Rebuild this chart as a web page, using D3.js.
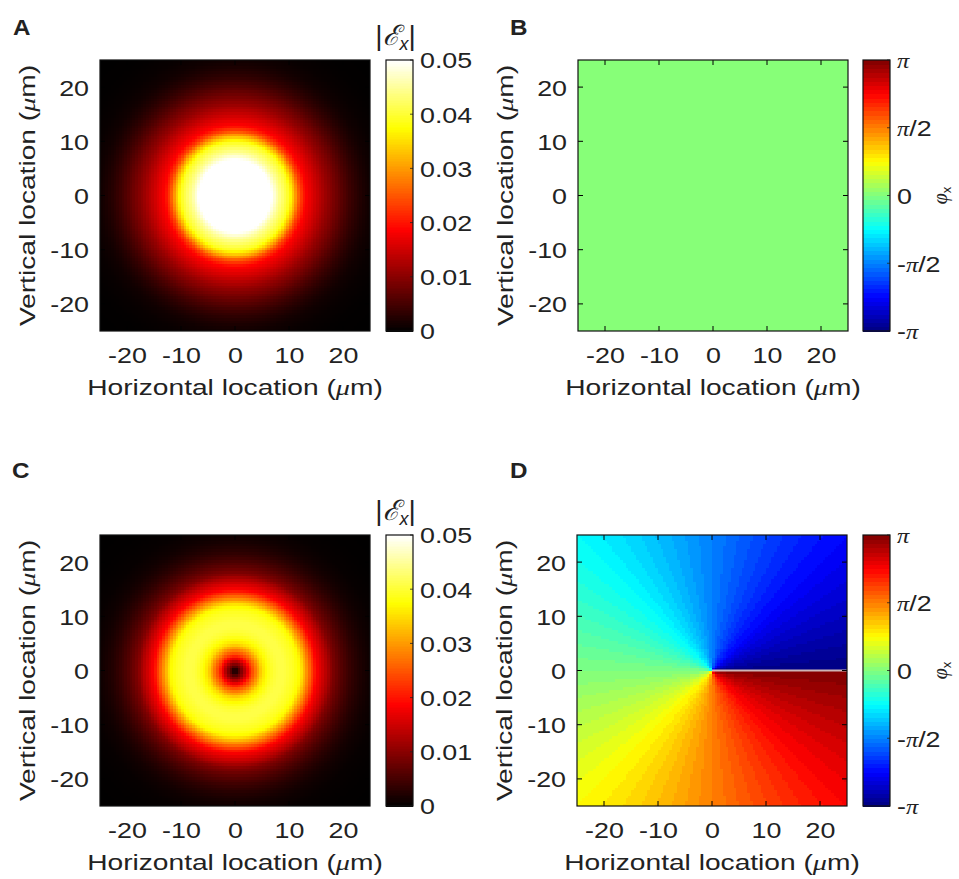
<!DOCTYPE html>
<html><head><meta charset="utf-8">
<script src="https://cdn.jsdelivr.net/npm/d3@7"></script>
<style>
body{margin:0;background:#fff;}
svg text{font-family:"Liberation Sans",Arial,Helvetica,sans-serif;fill:#222;}
</style></head><body>
<svg id="fig" width="959" height="879"></svg>
<script>
// ---------------- data ----------------
const axisTicks = [-20, -10, 0, 10, 20];
const axisExtent = [-25, 25];
const ampColorLimits = [0, 0.05];
const ampColorTicks = [0, 0.01, 0.02, 0.03, 0.04, 0.05];
const phaseColorLimits = [-Math.PI, Math.PI];
const phaseColorTicks = [-Math.PI, -Math.PI / 2, 0, Math.PI / 2, Math.PI];
const phaseColorTickLabels = ["-π", "-π/2", "0", "π/2", "π"];
// radial amplitude profile (Gaussian beam), radius in µm
const radiusA = [0, 2, 4, 6, 7, 8, 9, 10, 11, 12, 13, 14, 15, 16, 17, 18, 19, 20, 21, 22, 23, 24, 25, 27, 30, 36];
const ampA = [0.070, 0.068, 0.062, 0.053, 0.049, 0.045, 0.042, 0.039, 0.032, 0.024, 0.019, 0.017, 0.015, 0.013, 0.011, 0.0094, 0.0078, 0.0062, 0.0048, 0.0036, 0.0026, 0.0018, 0.0012, 0.0006, 0.0002, 0];
// radial amplitude profile (doughnut beam), radius in µm
const radiusC = [0, 0.5, 1, 1.5, 2, 2.5, 3, 4, 5, 6, 7, 8, 9, 10, 11, 12, 13, 14, 15, 16, 17, 18, 19, 20, 21, 22, 23, 24, 25, 27, 30, 36];
const ampC = [0, 0.004, 0.008, 0.011, 0.015, 0.019, 0.023, 0.029, 0.035, 0.038, 0.040, 0.041, 0.041, 0.040, 0.039, 0.037, 0.031, 0.025, 0.019, 0.016, 0.013, 0.0095, 0.0075, 0.0058, 0.0044, 0.0032, 0.0023, 0.0016, 0.0011, 0.0005, 0.0002, 0];
const azimuthDeg = [0, 90, 180, 270, 360];
const phaseB = [0, 0, 0, 0, 0];
const phaseD = [-Math.PI, -Math.PI / 2, 0, Math.PI / 2, Math.PI];

// ---------------- layout ----------------
const SX = 1.22;          // horizontal text stretch of the original rendering (tick labels)
const SXT = 1.28;         // stretch for axis titles
const FS = 22;            // font size
const PW = 270, PH = 271, CBW = 27;
const STEP = 0.5;
const panels = [
  {id: "A", kind: "amp", radius: radiusA, values: ampA, px: 100, py: 60, cbx: 286, letter: [13, 35]},
  {id: "B", kind: "phase", values: phaseB, px: 578, py: 60, cbx: 285, letter: [510, 35]},
  {id: "C", kind: "amp", radius: radiusC, values: ampC, px: 100, py: 535, cbx: 286, letter: [12, 478]},
  {id: "D", kind: "phase", values: phaseD, px: 577, py: 535, cbx: 286, letter: [510, 478], seam: true}
];

const clamp01 = v => Math.max(0, Math.min(1, v));
function hot(t) {
  t = clamp01(t);
  return d3.rgb(255 * clamp01(t / 0.375), 255 * clamp01((t - 0.375) / 0.375), 255 * clamp01((t - 0.75) / 0.25));
}
function jet(t) {
  return d3.rgb(255 * clamp01(1.5 - Math.abs(4 * t - 3)), 255 * clamp01(1.5 - Math.abs(4 * t - 2)), 255 * clamp01(1.5 - Math.abs(4 * t - 1)));
}
const jet64 = t => { const i = Math.min(63, Math.max(0, Math.floor(t * 64))); return jet((i + 0.5) / 64); };

const svg = d3.select("#fig");
const cellStarts = d3.range(axisExtent[0], axisExtent[1] - 1e-9, STEP);
const grid = cellStarts.flatMap(x0 => cellStarts.map(y0 => ({x0, y0})));
const ampNorm = d3.scaleLinear(ampColorLimits, [0, 1]).clamp(true);
const phaseNorm = d3.scaleLinear(phaseColorLimits, [0, 1]).clamp(true);
const SERIF = "'Liberation Serif','DejaVu Serif',serif";

panels.forEach(p => {
  const g = svg.append("g").attr("transform", `translate(${p.px},${p.py})`);
  const x = d3.scaleLinear(axisExtent, [0, PW]);
  const y = d3.scaleLinear(axisExtent, [PH, 0]);

  let colorOf;
  if (p.kind === "amp") {
    const prof = d3.scaleLinear(p.radius, p.values).clamp(true);
    colorOf = (cx, cy) => hot(ampNorm(prof(Math.hypot(cx, cy))));
  } else {
    const ph = d3.scaleLinear(azimuthDeg, p.values).clamp(true);
    colorOf = (cx, cy) => {
      let a = Math.atan2(cy, cx) * 180 / Math.PI;
      if (a < 0) a += 360;
      return jet64(phaseNorm(ph(a)));
    };
  }

  g.append("clipPath").attr("id", "clip" + p.id)
    .append("rect").attr("width", PW).attr("height", PH);
  const hm = g.append("g").attr("clip-path", `url(#clip${p.id})`).attr("shape-rendering", "crispEdges");
  hm.selectAll("rect").data(grid).join("rect")
    .attr("x", d => x(d.x0))
    .attr("y", d => y(d.y0 + STEP))
    .attr("width", x(STEP) - x(0) + 0.6)
    .attr("height", y(0) - y(STEP) + 0.6)
    .attr("fill", d => colorOf(d.x0 + STEP / 2, d.y0 + STEP / 2));

  if (p.seam) {
    g.append("line")
      .attr("x1", x(0)).attr("x2", x(axisExtent[1]))
      .attr("y1", y(0)).attr("y2", y(0))
      .attr("stroke", "#cdb5b5").attr("stroke-width", 2);
  }

  // inner ticks on all four sides
  const tk = g.append("g").attr("stroke", "#000").attr("stroke-width", 1);
  axisTicks.forEach(v => {
    tk.append("line").attr("x1", x(v)).attr("x2", x(v)).attr("y1", PH).attr("y2", PH - 5);
    tk.append("line").attr("x1", x(v)).attr("x2", x(v)).attr("y1", 0).attr("y2", 5);
    tk.append("line").attr("y1", y(v)).attr("y2", y(v)).attr("x1", 0).attr("x2", 5);
    tk.append("line").attr("y1", y(v)).attr("y2", y(v)).attr("x1", PW).attr("x2", PW - 5);
  });
  g.append("rect").attr("width", PW).attr("height", PH)
    .attr("fill", "none").attr("stroke", "#111").attr("stroke-width", 1.2);

  // x axis labels
  const gx = g.append("g").attr("transform", `translate(0,${PH})`)
    .call(d3.axisBottom(x).tickValues(axisTicks).tickSize(0).tickPadding(0).tickFormat(d => String(d)));
  gx.select(".domain").remove();
  gx.attr("font-size", FS).attr("font-family", null);
  gx.selectAll("text").attr("y", 32).attr("dy", null).attr("fill", "#222")
    .attr("transform", `scale(${SX},1)`);

  // y axis labels
  const gy = g.append("g")
    .call(d3.axisLeft(y).tickValues(axisTicks).tickSize(0).tickPadding(11).tickFormat(d => String(d)));
  gy.select(".domain").remove();
  gy.attr("font-size", FS).attr("font-family", null);
  gy.selectAll("text").attr("x", -11 / SX).attr("dy", "0.36em").attr("fill", "#222")
    .attr("transform", `scale(${SX},1)`);

  // axis titles
  const xt = g.append("text").attr("text-anchor", "middle").attr("font-size", FS)
    .attr("transform", `translate(${PW / 2},${PH + 64}) scale(${SXT},1)`);
  xt.append("tspan").text("Horizontal location (");
  xt.append("tspan").attr("font-family", SERIF).attr("font-style", "italic").text("μ");
  xt.append("tspan").text("m)");

  const yt = g.append("text").attr("text-anchor", "middle").attr("font-size", FS)
    .attr("transform", `translate(-65,${PH / 2}) rotate(-90) scale(${SXT},1)`);
  yt.append("tspan").text("Vertical location (");
  yt.append("tspan").attr("font-family", SERIF).attr("font-style", "italic").text("μ");
  yt.append("tspan").text("m)");

  // panel letter
  svg.append("text").attr("font-weight", "bold").attr("font-size", 22)
    .attr("transform", `translate(${p.letter[0]},${p.letter[1]}) scale(1.1,1)`)
    .attr("fill", "#000").text(p.id);

  // colour bar
  const cb = g.append("g").attr("transform", `translate(${p.cbx},0)`);
  const nb = p.kind === "amp" ? 160 : 64;
  const lim = p.kind === "amp" ? ampColorLimits : phaseColorLimits;
  const cbScale = d3.scaleLinear(lim, [PH, 0]);
  const bandVals = d3.range(nb).map(i => lim[0] + (i + 0.5) * (lim[1] - lim[0]) / nb);
  const bh = PH / nb;
  cb.append("g").attr("shape-rendering", "crispEdges").selectAll("rect").data(bandVals).join("rect")
    .attr("x", 0).attr("width", CBW)
    .attr("y", d => cbScale(d) - bh / 2).attr("height", bh + 0.6)
    .attr("fill", d => p.kind === "amp" ? hot(ampNorm(d)) : jet64(phaseNorm(d)));
  const cticks = p.kind === "amp" ? ampColorTicks : phaseColorTicks;
  cticks.forEach(v => {
    cb.append("line").attr("x1", CBW).attr("x2", CBW - 3).attr("y1", cbScale(v)).attr("y2", cbScale(v))
      .attr("stroke", "#222").attr("stroke-width", 0.8);
  });
  cb.append("rect").attr("width", CBW).attr("height", PH).attr("fill", "none")
    .attr("stroke", "#111").attr("stroke-width", 1.2);

  const ca = cb.append("g").attr("transform", `translate(${CBW},0)`)
    .call(d3.axisRight(cbScale).tickValues(cticks).tickSize(0).tickPadding(7)
      .tickFormat((d, i) => p.kind === "amp" ? (d === 0 ? "0" : d.toFixed(2)) : phaseColorTickLabels[i]));
  ca.select(".domain").remove();
  ca.attr("font-size", FS).attr("font-family", null);
  ca.selectAll("text").attr("x", 7 / SX).attr("dy", "0.36em").attr("fill", "#222")
    .attr("transform", `scale(${SX},1)`);
  if (p.kind === "phase") {
    ca.selectAll("text").each(function () {
      const t = d3.select(this);
      const s = t.text();
      t.text(null);
      for (const ch of s) {
        const sp = t.append("tspan").text(ch);
        if (ch === "π") sp.attr("font-family", SERIF).attr("font-style", "italic").attr("font-size", 20);
      }
    });
    // colour bar label φx
    const lab = g.append("text").attr("text-anchor", "middle").attr("fill", "#444")
      .attr("transform", `translate(${p.cbx + CBW + 57},${PH / 2}) rotate(-90)`);
    lab.append("tspan").attr("font-family", SERIF)
      .attr("font-style", "italic").attr("font-size", 20).text("φ");
    lab.append("tspan").attr("font-size", 13).attr("dy", 4).text("x");
  } else {
    // colour bar title |Ex|
    const tt = g.append("text").attr("text-anchor", "middle").attr("fill", "#111")
      .attr("font-family", "'DejaVu Serif','Liberation Serif',serif").attr("font-size", 28)
      .attr("transform", `translate(${p.cbx + CBW / 2 - 4},${-15})`);
    tt.append("tspan").attr("font-weight", "200").text("|");
    tt.append("tspan").attr("font-style", "italic").text("ℰ");
    tt.append("tspan").attr("font-style", "italic").attr("font-size", 18).attr("dy", 5).text("x");
    tt.append("tspan").attr("dy", -5).text("|");
  }
});
</script>
</body></html>
